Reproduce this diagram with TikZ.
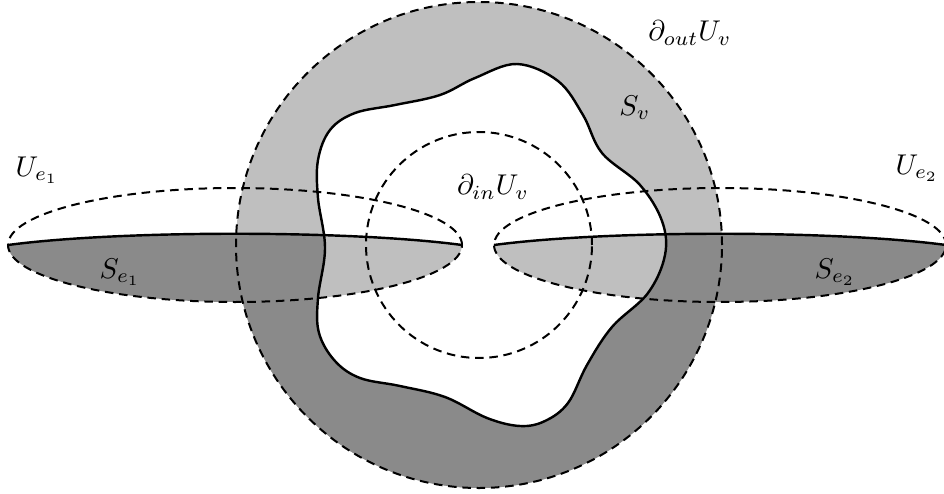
\documentclass[tikz,border=0pt]{standalone}
\usetikzlibrary{calc}

\definecolor{lightshade}{gray}{0.75}
\definecolor{darkshade}{gray}{0.54}

\begin{document}
\begin{tikzpicture}[
    x=0.35pt, y=0.35pt,
    boundary/.style={dash pattern=on 3pt off 2pt, line width=0.7pt},
    border/.style={line width=0.85pt},
]
\useasboundingbox (0,0) rectangle (944,493);

\coordinate (v)  at (479,248);
\coordinate (e1) at (235,248);
\coordinate (e2) at (720,248);

% paths used more than once
\def\wavy{plot[smooth cycle, tension=0.6] coordinates {
    (517,429) (558,412) (583,378) (602,340) (640,308) (662,272)
    (665,238) (648,200) (612,166) (587,128) (568,90) (545,72)
    (520,67) (487,75) (445,96) (400,107) (360,115) (335,132)
    (319,160) (318,195) (325,245) (318,295) (318,333) (330,363)
    (355,380) (395,388) (440,398) (475,415)}}
\def\lefttop{(8,248) .. controls (120,263) and (350,263) .. (462,248)}
\def\righttop{(494,248) .. controls (606,263) and (834,263) .. (946,248)}
\def\lefthalf{\lefttop arc[start angle=0, end angle=-180, x radius=227, y radius=57] -- cycle}
\def\righthalf{\righttop arc[start angle=0, end angle=-180, x radius=226, y radius=57] -- cycle}

% shading of S_v
\begin{scope}
    \clip (v) circle[radius=243];
    \fill[lightshade] (0,0) rectangle (944,493);
    \fill[darkshade] \lefttop -- \righttop -- (946,0) -- (8,0) -- cycle;
\end{scope}

% shading of S_e1, S_e2
\fill[darkshade] \lefthalf;
\fill[darkshade] \righthalf;
\fill[white] \wavy;
\begin{scope}
    \clip \wavy;
    \fill[lightshade] \lefthalf;
    \fill[lightshade] \righthalf;
\end{scope}

% dashed boundaries
\draw[boundary] (v) circle[radius=243];
\draw[boundary] (v) circle[radius=113];
\draw[boundary] (e1) ellipse[x radius=227, y radius=57];
\draw[boundary] (e2) ellipse[x radius=226, y radius=57];

% solid boundaries
\draw[border] \wavy;
\draw[border] \lefttop;
\draw[border] \righttop;

\node (outlabel) at (690,460) {$\partial_{out}U_v$};
\node (svlabel)  at (635,385) {$S_v$};
\node (inlabel)  at (493,306) {$\partial_{in}U_v$};
\node (ue1label) at (37,323)  {$U_{e_1}$};
\node (ue2label) at (917,325) {$U_{e_2}$};
\node (se1label) at (120,221) {$S_{e_1}$};
\node (se2label) at (835,221) {$S_{e_2}$};

\end{tikzpicture}
\end{document}
